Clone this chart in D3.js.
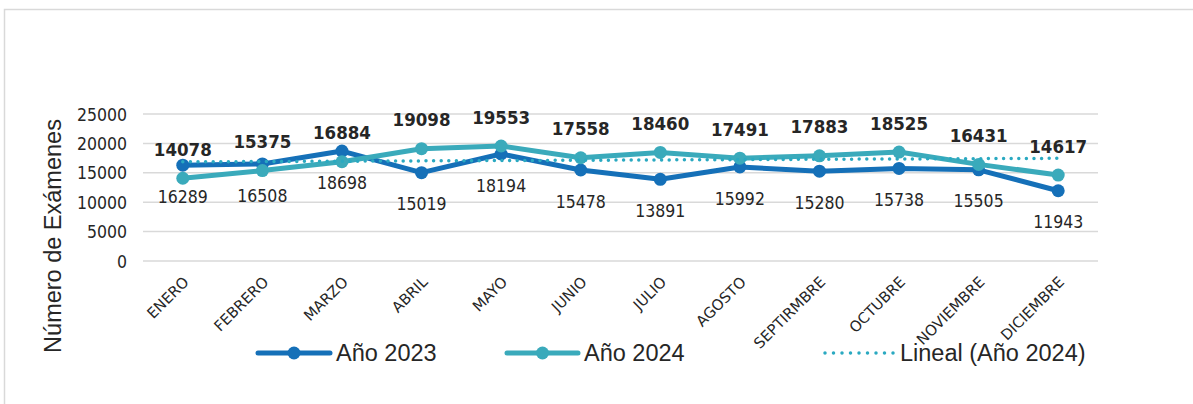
<!DOCTYPE html>
<html>
<head>
<meta charset="utf-8">
<script src="https://cdn.jsdelivr.net/npm/d3@7"></script>
<style>
  html, body { margin: 0; padding: 0; background: #fff; }
  svg { display: block; }
  .num { font-family: "DejaVu Sans", sans-serif; font-stretch: condensed; fill: #262626; }
  .cat { font-family: "DejaVu Sans", sans-serif; fill: #262626; }
  .sans { font-family: "Liberation Sans", Arial, sans-serif; fill: #262626; }
</style>
</head>
<body>
<svg id="chart" width="1193" height="404"></svg>
<script>
// Monthly exam counts
const months = ["ENERO", "FEBRERO", "MARZO", "ABRIL", "MAYO", "JUNIO", "JULIO",
  "AGOSTO", "SEPTIRMBRE", "OCTUBRE", "NOVIEMBRE", "DICIEMBRE"];
const values2023 = [16289, 16508, 18698, 15019, 18194, 15478, 13891, 15992, 15280, 15738, 15505, 11943];
const values2024 = [14078, 15375, 16884, 19098, 19553, 17558, 18460, 17491, 17883, 18525, 16431, 14617];
const yTicks = [0, 5000, 10000, 15000, 20000, 25000];

const color2023 = "#1570b8";
const color2024 = "#3aaabb";
const trendColor = "#2aa9c1";

const svg = d3.select("#chart");

// outer chart frame
svg.append("rect")
  .attr("x", 4.5).attr("y", 9.5).attr("width", 1300).attr("height", 500)
  .attr("fill", "none").attr("stroke", "#d9d9d9").attr("stroke-width", 1.5);

const plotLeft = 143, plotRight = 1098, plotTop = 114, plotBottom = 261;

const x = d3.scaleBand().domain(months).range([plotLeft, plotRight]).padding(0);
const cx = m => x(m) + x.bandwidth() / 2;
const y = d3.scaleLinear().domain([0, 25000]).range([plotBottom, plotTop]);

// horizontal gridlines
svg.append("g")
  .selectAll("line").data(yTicks).join("line")
  .attr("x1", plotLeft).attr("x2", plotRight)
  .attr("y1", d => y(d)).attr("y2", d => y(d))
  .attr("stroke", "#d9d9d9").attr("stroke-width", 1.5);

// y axis labels
const yAxis = svg.append("g")
  .attr("transform", `translate(${plotLeft - 16},0)`)
  .call(d3.axisLeft(y).tickValues(yTicks).tickSize(0).tickPadding(0).tickFormat(d3.format("d")));
yAxis.select(".domain").remove();
yAxis.selectAll("text")
  .attr("class", "num")
  .attr("font-size", 17.5)
  .attr("dy", "0.35em")
  .attr("fill", "#262626");

// x axis labels, rotated
const xAxis = svg.append("g")
  .attr("transform", `translate(0,${plotBottom})`)
  .call(d3.axisBottom(x).tickSize(0).tickPadding(0));
xAxis.select(".domain").remove();
xAxis.selectAll(".tick text")
  .attr("class", "cat")
  .attr("font-size", 14.8)
  .attr("fill", "#262626")
  .attr("text-anchor", "end")
  .attr("dy", 0).attr("y", 0)
  .attr("transform", "translate(7,22) rotate(-45)");

// y axis title
svg.append("text")
  .attr("class", "sans")
  .attr("font-size", 23.5)
  .attr("text-anchor", "middle")
  .attr("transform", `translate(61,236) rotate(-90)`)
  .text("Número de Exámenes");

// series lines
const line = d3.line().x((d, i) => cx(months[i])).y(d => y(d));

function drawSeries(vals, col) {
  svg.append("path").datum(vals)
    .attr("d", line).attr("fill", "none")
    .attr("stroke", col).attr("stroke-width", 5)
    .attr("stroke-linejoin", "round").attr("stroke-linecap", "round");
  svg.append("g").selectAll("circle").data(vals).join("circle")
    .attr("cx", (d, i) => cx(months[i])).attr("cy", d => y(d))
    .attr("r", 6.5).attr("fill", col);
}
drawSeries(values2023, color2023);
drawSeries(values2024, color2024);

// least-squares linear trend for 2024
const n = values2024.length;
const xs = d3.range(1, n + 1);
const mx = d3.mean(xs), my = d3.mean(values2024);
const slope = d3.sum(xs, (xi, i) => (xi - mx) * (values2024[i] - my)) / d3.sum(xs, xi => (xi - mx) ** 2);
const intercept = my - slope * mx;
const trend = xs.map(xi => intercept + slope * xi);
svg.append("path").datum(trend)
  .attr("d", line).attr("fill", "none")
  .attr("stroke", trendColor).attr("stroke-width", 3.5)
  .attr("stroke-linecap", "round").attr("stroke-dasharray", "0 7.6");

// value labels: 2024 above (bold), 2023 below
svg.append("g").selectAll("text").data(values2024).join("text")
  .attr("class", "num")
  .attr("font-size", 18.5).attr("font-weight", "bold")
  .attr("text-anchor", "middle")
  .attr("x", (d, i) => cx(months[i])).attr("y", d => y(d) - 29)
  .attr("dy", "0.35em")
  .text(d => d);
svg.append("g").selectAll("text").data(values2023).join("text")
  .attr("class", "num")
  .attr("font-size", 17.5)
  .attr("text-anchor", "middle")
  .attr("x", (d, i) => cx(months[i])).attr("y", d => y(d) + 31.5)
  .attr("dy", "0.35em")
  .text(d => d);

// legend
const legend = [
  { label: "Año 2023", col: color2023, x0: 258, x1: 330, marker: true },
  { label: "Año 2024", col: color2024, x0: 507, x1: 578, marker: true },
  { label: "Lineal (Año 2024)", col: trendColor, x0: 825, x1: 894, marker: false }
];
const ly = 353;
const lg = svg.append("g");
legend.forEach(item => {
  if (item.marker) {
    lg.append("line").attr("x1", item.x0).attr("x2", item.x1).attr("y1", ly).attr("y2", ly)
      .attr("stroke", item.col).attr("stroke-width", 5).attr("stroke-linecap", "round");
    lg.append("circle").attr("cx", (item.x0 + item.x1) / 2).attr("cy", ly).attr("r", 6.5).attr("fill", item.col);
  } else {
    lg.append("line").attr("x1", item.x0).attr("x2", item.x1 + 0.1).attr("y1", ly).attr("y2", ly)
      .attr("stroke", item.col).attr("stroke-width", 3.5).attr("stroke-linecap", "round")
      .attr("stroke-dasharray", "0 8.5");
  }
  lg.append("text").attr("class", "sans").attr("font-size", 23.5)
    .attr("x", item.x1 + 6).attr("y", ly).attr("dy", "0.35em")
    .text(item.label);
});
</script>
</body>
</html>
